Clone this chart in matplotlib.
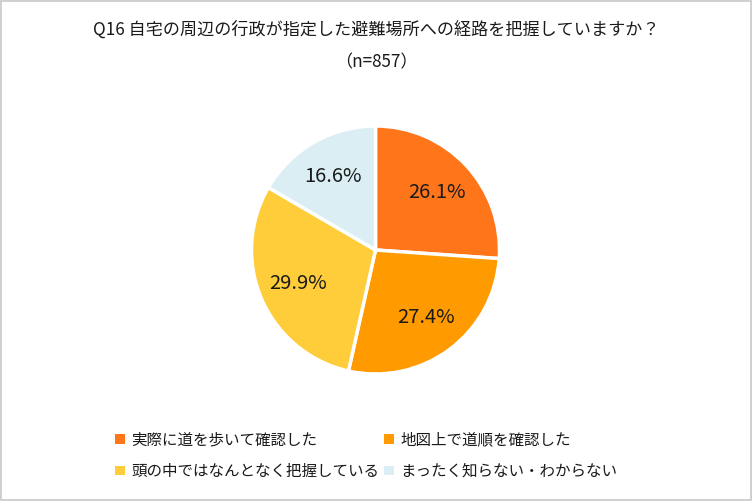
import numpy as np
import matplotlib.pyplot as plt

plt.rcParams['font.family'] = ['Noto Sans CJK JP', 'DejaVu Sans']

title_line1 = 'Q16 自宅の周辺の行政が指定した避難場所への経路を把握していますか？'
title_line2 = '（n=857）'
labels = ['実際に道を歩いて確認した', '地図上で道順を確認した',
          '頭の中ではなんとなく把握している', 'まったく知らない・わからない']
values = [26.1, 27.4, 29.9, 16.6]
colors = ['#FF7519', '#FF9B00', '#FFCC3A', '#DAEEF3']

W, H = 752, 501
fig = plt.figure(figsize=(W / 100, H / 100), dpi=100,
                 edgecolor='#d0d0d0', linewidth=1.5)

# pie centre ~ (376, 250) px, radius ~124 px
cx, cy, r = 375.5, 250, 124
ax = fig.add_axes([(cx - r) / W, (H - cy - r) / H, 2 * r / W, 2 * r / H])
wedges, _, autotexts = ax.pie(values, colors=colors, startangle=90, counterclock=False,
                              autopct='%.1f%%', pctdistance=0.68, radius=1,
                              wedgeprops=dict(edgecolor='white', linewidth=2.5),
                              textprops=dict(fontsize=14.5, color='#1a1a1a'))
ax.set_xlim(-1, 1)
ax.set_ylim(-1, 1)
ax.set_aspect('equal')

fig.text(0.5, 1 - 30 / H, title_line1, ha='center', va='center',
         fontsize=12.3, color='#1a1a1a')
fig.text(0.5, 1 - 62 / H, title_line2, ha='center', va='center',
         fontsize=12.3, color='#1a1a1a')

# legend is filled row by row in the reference
order = [0, 2, 1, 3]
leg = fig.legend([wedges[i] for i in order], [labels[i] for i in order],
                 ncol=2, frameon=False, fontsize=11.2,
                 loc='upper left', bbox_to_anchor=(109 / W, 1 - 425 / H),
                 handlelength=0.6, handleheight=0.6, handletextpad=0.45,
                 columnspacing=0.3, labelspacing=0.95, borderaxespad=0)
for t in leg.get_texts():
    t.set_color('#1a1a1a')
for h in leg.legend_handles:
    h.set_edgecolor('none')

fig.savefig('out.png', dpi=100)
